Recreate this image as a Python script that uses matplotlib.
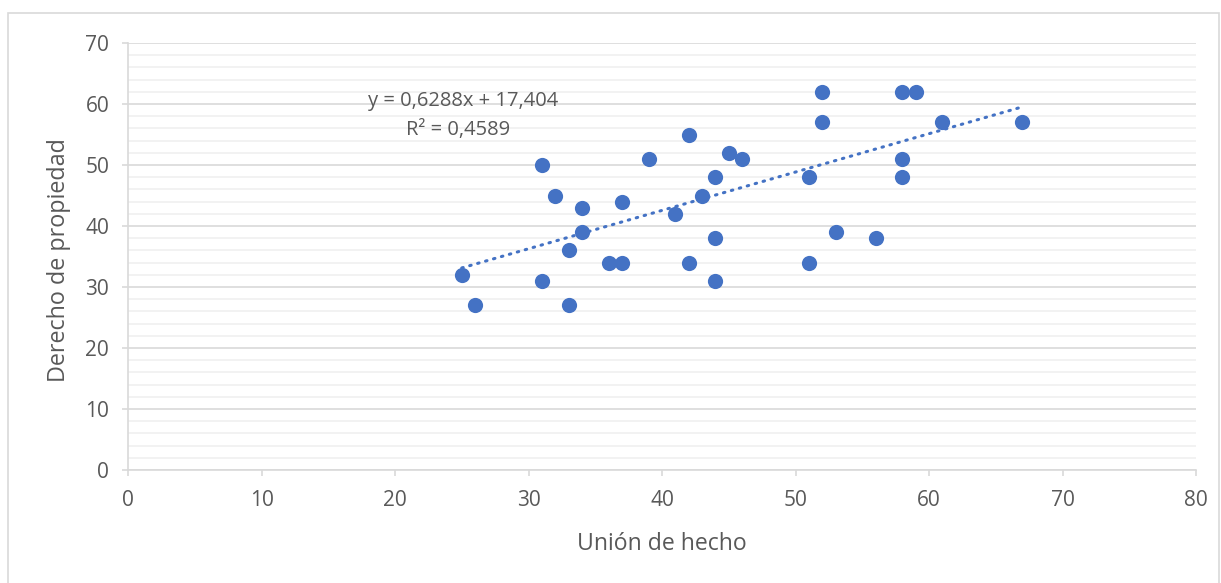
import matplotlib.pyplot as plt
from matplotlib.patches import Rectangle
import numpy as np

# Unión de hecho vs. Derecho de propiedad
union_hecho = [25, 26, 31, 31, 32, 33, 33, 34, 34, 36, 37, 37, 39, 41, 42, 42, 43,
               44, 44, 44, 45, 46, 51, 51, 52, 52, 53, 56, 58, 58, 58, 59, 61, 67]
derecho_prop = [32, 27, 50, 31, 45, 36, 27, 43, 39, 34, 44, 34, 51, 42, 55, 34, 45,
                48, 38, 31, 52, 51, 48, 34, 62, 57, 39, 38, 62, 51, 48, 62, 57, 57]

# Excel trendline coefficients (as shown on the chart)
slope = 0.6288
intercept = 17.404
r2 = 0.4589

blue = '#4472C4'
grid_major = '#d9d9d9'
grid_minor = '#f0f0f0'
text_col = '#595959'

plt.rcParams['font.family'] = ['Open Sans', 'DejaVu Sans']

W, H = 1221, 583
fig = plt.figure(figsize=(W / 100, H / 100), dpi=100)
ax = fig.add_axes([128 / W, 1 - 470 / H, (1196 - 128) / W, (470 - 43) / H])

# outer chart border
fig.patches.append(Rectangle((8 / W, -0.05), (1219 - 8) / W, 1.05 - 13 / H,
                             transform=fig.transFigure, fill=False,
                             edgecolor=grid_major, linewidth=1.2))

ax.set_xlim(0, 80)
ax.set_ylim(0, 70)
ax.set_xticks(np.arange(0, 81, 10))
ax.set_yticks(np.arange(0, 71, 10))
ax.set_yticks(np.arange(0, 71, 2), minor=True)

ax.grid(axis='y', which='major', color=grid_major, linewidth=1.2)
ax.grid(axis='y', which='minor', color=grid_minor, linewidth=1.2)
ax.set_axisbelow(True)

for s in ['top', 'right']:
    ax.spines[s].set_visible(False)
for s in ['left', 'bottom']:
    ax.spines[s].set_color(grid_major)
    ax.spines[s].set_linewidth(1.2)

ax.tick_params(axis='both', which='major', colors=grid_major, length=4.5, width=1.2,
               labelcolor=text_col, labelsize=15)
ax.tick_params(axis='x', which='major', pad=10)
ax.tick_params(axis='y', which='major', pad=9)
ax.tick_params(axis='y', which='minor', length=0)

ax.scatter(union_hecho, derecho_prop, s=120, color=blue, zorder=3, linewidths=0)

xt = np.array([min(union_hecho), max(union_hecho)])
ax.plot(xt, slope * xt + intercept, color=blue, linestyle=(0, (0.5, 2.2)),
        linewidth=2.2, dash_capstyle='round', zorder=2)

ax.text(25.09, 59.67, f'y = {slope:.4f}x + {intercept:.3f}'.replace('.', ','),
        ha='center', va='baseline', fontsize=14.5, color=text_col)
ax.text(24.72, 54.9, f'R² = {r2:.4f}'.replace('.', ','),
        ha='center', va='baseline', fontsize=14.5, color=text_col)

fig.text(662 / W, 1 - 550 / H, 'Unión de hecho', ha='center', va='baseline',
         fontsize=16.6, color=text_col)
fig.text(59 / W, 1 - 260 / H, 'Derecho de propiedad', ha='center', va='center',
         rotation=90, fontsize=16.8, color=text_col)

fig.savefig('out.png', dpi=100)
